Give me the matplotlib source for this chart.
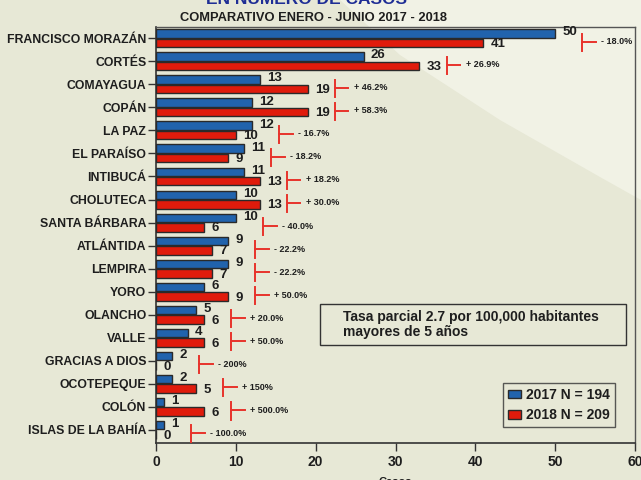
import numpy as np
import matplotlib
matplotlib.use('Agg')
import matplotlib.pyplot as plt
from matplotlib.patches import Polygon, Rectangle

plt.rcParams['font.family'] = ['Liberation Sans', 'DejaVu Sans']
plt.rcParams['font.weight'] = 'bold'

# data
departamentos = ['FRANCISCO MORAZÁN', 'CORTÉS', 'COMAYAGUA', 'COPÁN', 'LA PAZ',
                 'EL PARAÍSO', 'INTIBUCÁ', 'CHOLUTECA', 'SANTA BÁRBARA', 'ATLÁNTIDA',
                 'LEMPIRA', 'YORO', 'OLANCHO', 'VALLE', 'GRACIAS A DIOS',
                 'OCOTEPEQUE', 'COLÓN', 'ISLAS DE LA BAHÍA']
casos_2017 = [50, 26, 13, 12, 12, 11, 11, 10, 10, 9, 9, 6, 5, 4, 2, 2, 1, 1]
casos_2018 = [41, 33, 19, 19, 10, 9, 13, 13, 6, 7, 7, 9, 6, 6, 0, 5, 6, 0]
variacion = ['- 18.0%', '+ 26.9%', '+ 46.2%', '+ 58.3%', '- 16.7%', '- 18.2%',
             '+ 18.2%', '+ 30.0%', '- 40.0%', '- 22.2%', '- 22.2%', '+ 50.0%',
             '+ 20.0%', '+ 50.0%', '- 200%', '+ 150%', '+ 500.0%', '- 100.0%']
leyenda = ['2017 N = 194', '2018 N = 209']
xticks = [0, 10, 20, 30, 40, 50, 60]

azul = '#2163ad'
rojo = '#e01b0c'
marca = '#e8332b'
fondo = '#e7e8d6'
fondo_claro = '#f1f2e5'
texto = '#1e1e1e'

W, H = 641, 480
fig = plt.figure(figsize=(W / 100, H / 100), dpi=100)
fig.patch.set_facecolor(fondo)

# lighter diagonal area at the top right of the slide background
pts = [(340, 0), (400, 55), (500, 120), (600, 177), (641, 200), (641, 0)]
fig.patches.append(Polygon([(x / W, 1 - y / H) for x, y in pts], closed=True,
                           transform=fig.transFigure, facecolor=fondo_claro,
                           edgecolor='none', zorder=-5))

ax = fig.add_axes([156 / W, 1 - 443 / H, (635 - 156) / W, (443 - 27) / H])
ax.set_facecolor('none')

y = np.arange(len(departamentos))
h = 0.37
off = 0.205
ax.barh(y - off, casos_2017, height=h, color=azul, edgecolor='#2a2a2a',
        linewidth=1, label=leyenda[0], zorder=3)
ax.barh(y + off, casos_2018, height=h, color=rojo, edgecolor='#2a2a2a',
        linewidth=1, label=leyenda[1], zorder=3)

for i in range(len(departamentos)):
    a, b = casos_2017[i], casos_2018[i]
    ax.text(a + 0.9, i - off - 0.05, str(a), ha='left', va='center',
            fontsize=9.5, color=texto, zorder=4)
    ax.text(b + 0.9, i + off + 0.05, str(b), ha='left', va='center',
            fontsize=9.5, color=texto, zorder=4)
    xm = max(a, b) + 3.4
    ax.plot([xm, xm], [i - 0.2, i + 0.55], color=marca, lw=1.4, zorder=4)
    ax.plot([xm, xm + 1.7], [i + 0.15, i + 0.15], color=marca, lw=1.4, zorder=4)
    ax.text(xm + 2.4, i + 0.15, variacion[i], ha='left', va='center',
            fontsize=6.5, color=texto, zorder=4)

ax.set_xlim(0, 60)
ax.set_ylim(17.57, -0.49)
ax.set_xticks(xticks)
ax.set_xticklabels([str(t) for t in xticks], fontsize=10, color=texto)
ax.set_yticks(y)
ax.set_yticklabels(departamentos, fontsize=8.8, color=texto)
ax.tick_params(axis='y', length=6, width=1, color='#333333', pad=1)
ax.tick_params(axis='x', length=6, width=1, color='#333333', pad=3)
for s in ['left', 'bottom']:
    ax.spines[s].set_color('#333333')
    ax.spines[s].set_linewidth(1.2)
for s in ['top', 'right']:
    ax.spines[s].set_color('#555555')
    ax.spines[s].set_linewidth(1)

# note box
ax.add_patch(Rectangle((0.342, 0.236), 0.639, 0.098, transform=ax.transAxes,
                       facecolor='none', edgecolor='#333333', lw=1, zorder=5))
ax.text(0.39, 0.285, 'Tasa parcial 2.7 por 100,000 habitantes\nmayores de 5 años',
        transform=ax.transAxes, ha='left', va='center', fontsize=10,
        color=texto, linespacing=1.05, zorder=5)

leg = ax.legend(loc='lower right', bbox_to_anchor=(0.958, 0.038),
                borderaxespad=0, fontsize=10, frameon=True, fancybox=False,
                handlelength=0.9, handleheight=0.55, handletextpad=0.4,
                borderpad=0.35, labelspacing=0.45)
leg.get_frame().set_edgecolor('#333333')
leg.get_frame().set_facecolor('none')
leg.get_frame().set_linewidth(1)
for t in leg.get_texts():
    t.set_color(texto)

fig.text(307 / W, 1 - 4 / H, 'EN NUMERO DE CASOS', ha='center', va='baseline',
         fontsize=12.5, color='#1f2e95')
fig.text(314 / W, 1 - 18 / H, 'COMPARATIVO ENERO - JUNIO 2017 - 2018',
         ha='center', va='center', fontsize=9.3, color=texto)
fig.text(395 / W, 1 - 477 / H, 'Casos', ha='center', va='top', fontsize=8,
         color=texto)

fig.savefig('out.png', dpi=100, facecolor=fig.get_facecolor())
